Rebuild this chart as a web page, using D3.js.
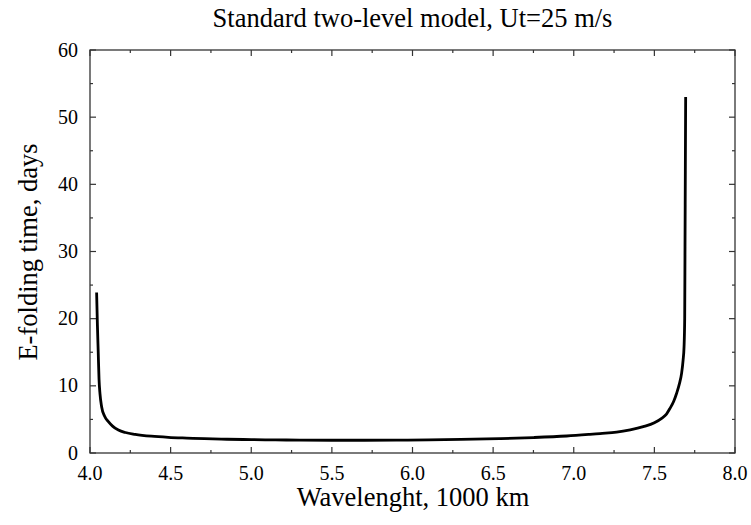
<!DOCTYPE html>
<html><head><meta charset="utf-8">
<script src="https://cdn.jsdelivr.net/npm/d3@7"></script>
<style>body{margin:0;background:#fff}svg{display:block}text{font-family:"Liberation Serif","Times New Roman",serif;fill:#000}</style>
</head><body><svg id="c" width="751" height="525"></svg>
<script>
const wavelength = [4.041,4.046,4.051,4.056,4.062,4.072,4.09,4.114,4.14,4.176,4.22,4.28,4.38,4.486,4.6,4.71,4.85,5.0,5.15,5.3,5.5,5.7,5.922,6.1,6.3,6.54,6.75,6.956,7.1,7.163,7.266,7.35,7.431,7.5,7.545,7.575,7.597,7.62,7.638,7.655,7.669,7.678,7.684,7.688,7.690,7.692,7.694];
const efold = [23.9,19.0,15.0,11.0,8.8,6.9,5.5,4.66,4.0,3.42,3.05,2.78,2.5,2.33,2.22,2.13,2.05,1.99,1.95,1.92,1.9,1.9,1.91,1.95,2.02,2.14,2.3,2.53,2.78,2.9,3.1,3.45,3.92,4.5,5.16,5.8,6.65,7.7,8.9,10.3,11.9,13.8,15.8,20,30.7,42,53.0];
const xTicks = [4.0,4.5,5.0,5.5,6.0,6.5,7.0,7.5,8.0];
const yTicks = [0,10,20,30,40,50,60];
const title = "Standard two-level model, Ut=25 m/s";
const xLabel = "Wavelenght, 1000 km";
const yLabel = "E-folding time, days";

const FONT = "'Liberation Serif','Times New Roman',serif";
const svg = d3.select("#c");
const L=90,R=735,T=50,B=453;
const x = d3.scaleLinear().domain([4,8]).range([L,R]);
const y = d3.scaleLinear().domain([0,60]).range([B,T]);
const xMinor = d3.range(4.25,8,0.5);
const yMinor = d3.range(5,60,10);
const axisCol="#333";

svg.append("rect").attr("x",L).attr("y",T).attr("width",R-L).attr("height",B-T)
  .attr("fill","none").attr("stroke",axisCol).attr("stroke-width",1.3);

const g = svg.append("g");
function ticks(vals,len,isX){
  vals.forEach(v=>{
    if(isX){
      g.append("line").attr("x1",x(v)).attr("x2",x(v)).attr("y1",B).attr("y2",B-len).attr("stroke",axisCol).attr("stroke-width",1.2);
      g.append("line").attr("x1",x(v)).attr("x2",x(v)).attr("y1",T).attr("y2",T+len).attr("stroke",axisCol).attr("stroke-width",1.2);
    } else {
      g.append("line").attr("x1",L).attr("x2",L+len).attr("y1",y(v)).attr("y2",y(v)).attr("stroke",axisCol).attr("stroke-width",1.2);
      g.append("line").attr("x1",R).attr("x2",R-len).attr("y1",y(v)).attr("y2",y(v)).attr("stroke",axisCol).attr("stroke-width",1.2);
    }
  });
}
ticks(xTicks,6,true); ticks(xMinor,3,true);
ticks(yTicks,6,false); ticks(yMinor,3,false);

g.selectAll(".xl").data(xTicks).join("text").attr("x",d=>x(d)).attr("y",480)
  .attr("text-anchor","middle").attr("font-family",FONT).attr("font-size",20).text(d=>d.toFixed(1));
g.selectAll(".yl").data(yTicks).join("text").attr("x",78).attr("y",d=>y(d)+6.5)
  .attr("text-anchor","end").attr("font-family",FONT).attr("font-size",20).text(d=>d);

svg.append("text").attr("x",412.5).attr("y",27).attr("text-anchor","middle").attr("font-family",FONT).attr("font-size",26.5).text(title);
svg.append("text").attr("x",413).attr("y",506).attr("text-anchor","middle").attr("font-family",FONT).attr("font-size",26.5).text(xLabel);
svg.append("text").attr("transform","translate(37,252) rotate(-90)").attr("text-anchor","middle").attr("font-family",FONT).attr("font-size",26.5).text(yLabel);

const line = d3.line().x((d,i)=>x(wavelength[i])).y(d=>y(d)).curve(d3.curveMonotoneX);
svg.append("path").attr("d",line(efold)).attr("fill","none").attr("stroke","#000").attr("stroke-width",2.8);
</script></body></html>
